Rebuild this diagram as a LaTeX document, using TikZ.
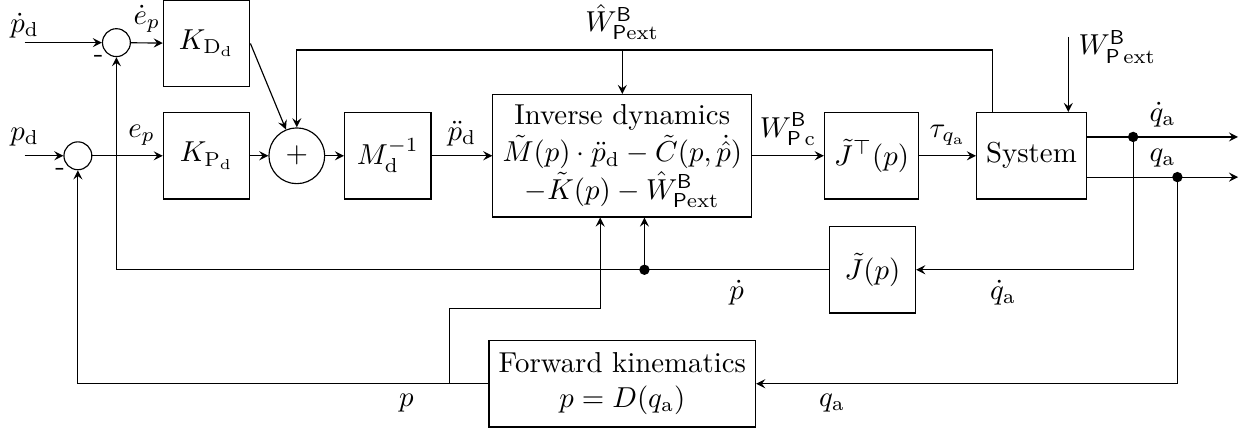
\documentclass[tikz,border=0pt]{standalone}
\usepackage{tikz}
\usepackage{amsmath}

\begin{document}
\begin{tikzpicture}[>=stealth,
  block/.style={draw, minimum width=3em, minimum height=3em, align=center},
  smallsum/.style={draw, circle, minimum size=0.34cm, inner sep=0pt},
  bigsum/.style={draw, circle, minimum size=0.68cm, inner sep=0pt},
  junc/.style={fill, circle, inner sep=0pt, minimum size=3.6pt}]
\useasboundingbox (0,0) rectangle (15.27,-5.25);
% summing points:
\node[smallsum, label={[inner sep=0pt, label distance=1pt]225:-}] (sumD) at (1.42,-0.52) {};
\node[smallsum, label={[inner sep=0pt, label distance=1pt]225:-}] (sumP) at (0.95,-1.90) {};
\node[bigsum] (sum) at (3.62,-1.90) {$+$};
% blocks:
\node[block] (KD) at (2.52,-0.53) {$K_{\mathrm{D}_\mathrm{d}}$};
\node[block] (KP) at (2.52,-1.90) {$K_{\mathrm{P}_\mathrm{d}}$};
\node[block] (Minv) at (4.73,-1.90) {$M_\mathrm{d}^{-1}$};
\node[block] (invdyn) at (7.59,-1.90) {Inverse dynamics\\[1pt]
  $\tilde{M}(p)\cdot\ddot{p}_\mathrm{d}-\tilde{C}(p,\dot{\hat{p}})$\\[1pt]
  $-\tilde{K}(p)-\hat{W}^{\mathsf{B}}_{\mathsf{P}\mathrm{ext}}$};
\node[block] (JT) at (10.63,-1.90) {$\tilde{J}^{\top}(p)$};
\node[block] (sys) at (12.58,-1.90) {System};
\node[block] (Jt) at (10.64,-3.29) {$\tilde{J}(p)$};
\node[block] (fk) at (7.59,-4.68) {Forward kinematics\\ $p=D(q_\mathrm{a})$};
% free ends and branch points:
\coordinate (pdin) at (0.30,-0.52);
\coordinate (pin) at (0.30,-1.90);
\coordinate (wtap) at (12.11,-0.61);
\coordinate (wext) at (13.03,-0.45);
\coordinate (qdout) at (15.10,-1.67);
\coordinate (qout) at (15.10,-2.16);
\coordinate (qdtap) at (13.82,-1.67);
\coordinate (qtap) at (14.36,-2.16);
\coordinate (pdtap) at (7.86,-3.29);
\coordinate (pbr) at (5.48,-4.67);
\coordinate (pup) at (7.32,-3.76);
% forward path:
\draw[->] (pdin) node (lpdd) [above, yshift=-2pt] {$\dot{p}_\mathrm{d}$} -- (sumD.west);
\draw[->] (pin) node (lpd) [above] {$p_\mathrm{d}$} -- (sumP.west);
\draw[->] (sumD) -- (KD) node (led) [midway, above] {$\dot{e}_p$};
\draw[->] (sumP) -- (KP) node (lep) [pos=0.7, above] {$e_p$};
\draw[->] (KD.east) -- (sum);
\draw[->] (KP) -- (sum);
\draw[->] (sum) -- (Minv);
\draw[->] (Minv) -- (invdyn) node (lpdd2) [midway, above] {$\ddot{p}_\mathrm{d}$};
\draw[->] (invdyn) -- (JT) node (lwc) [midway, above] {$W^{\mathsf{B}}_{\mathsf{P}\,\mathrm{c}}$};
\draw[->] (JT) -- (sys) node (ltau) [midway, above] {$\tau_{q_\mathrm{a}}$};
\draw[->] (wext) node (lwext) [right, yshift=-0.12cm] {$W^{\mathsf{B}}_{\mathsf{P}\,\mathrm{ext}}$} -- (wext |- sys.north);
% outputs:
\draw[->] (sys.east |- qdout) -- (qdout) node (lqdo) [midway, above] {$\dot{q}_\mathrm{a}$};
\draw[->] (sys.east |- qout) -- (qout) node (lqo) [midway, above] {$q_\mathrm{a}$};
% estimated wrench:
\draw[->] (wtap |- sys.north) |- (sum.north |- wtap) -- (sum.north);
\draw[->] (invdyn.north |- wtap) node (lwh) [above] {$\hat{W}^{\mathsf{B}}_{\mathsf{P}\mathrm{ext}}$} -- (invdyn.north);
% feedback:
\draw[->] (qdtap) |- (Jt.east) node (lqdf) [pos=0.8, below] {$\dot{q}_\mathrm{a}$};
\draw[->] (qtap) |- (fk.east) node (lqf) [pos=0.91, below] {$q_\mathrm{a}$};
\draw (Jt.west) -- (pdtap) node (lpdot) [midway, below] {$\dot{p}$};
\draw[->] (pdtap) -| (sumD.south);
\draw[->] (pdtap) -- (pdtap |- invdyn.south);
\draw[->] (fk.west) -| (sumP.south) node (lp) [pos=0.1, below] {$p$};
\draw[->] (pbr) |- (pup) -- (pup |- invdyn.south);
\node[junc] (jqd) at (qdtap) {};
\node[junc] (jq) at (qtap) {};
\node[junc] (jpd) at (pdtap) {};
\end{tikzpicture}
\end{document}
